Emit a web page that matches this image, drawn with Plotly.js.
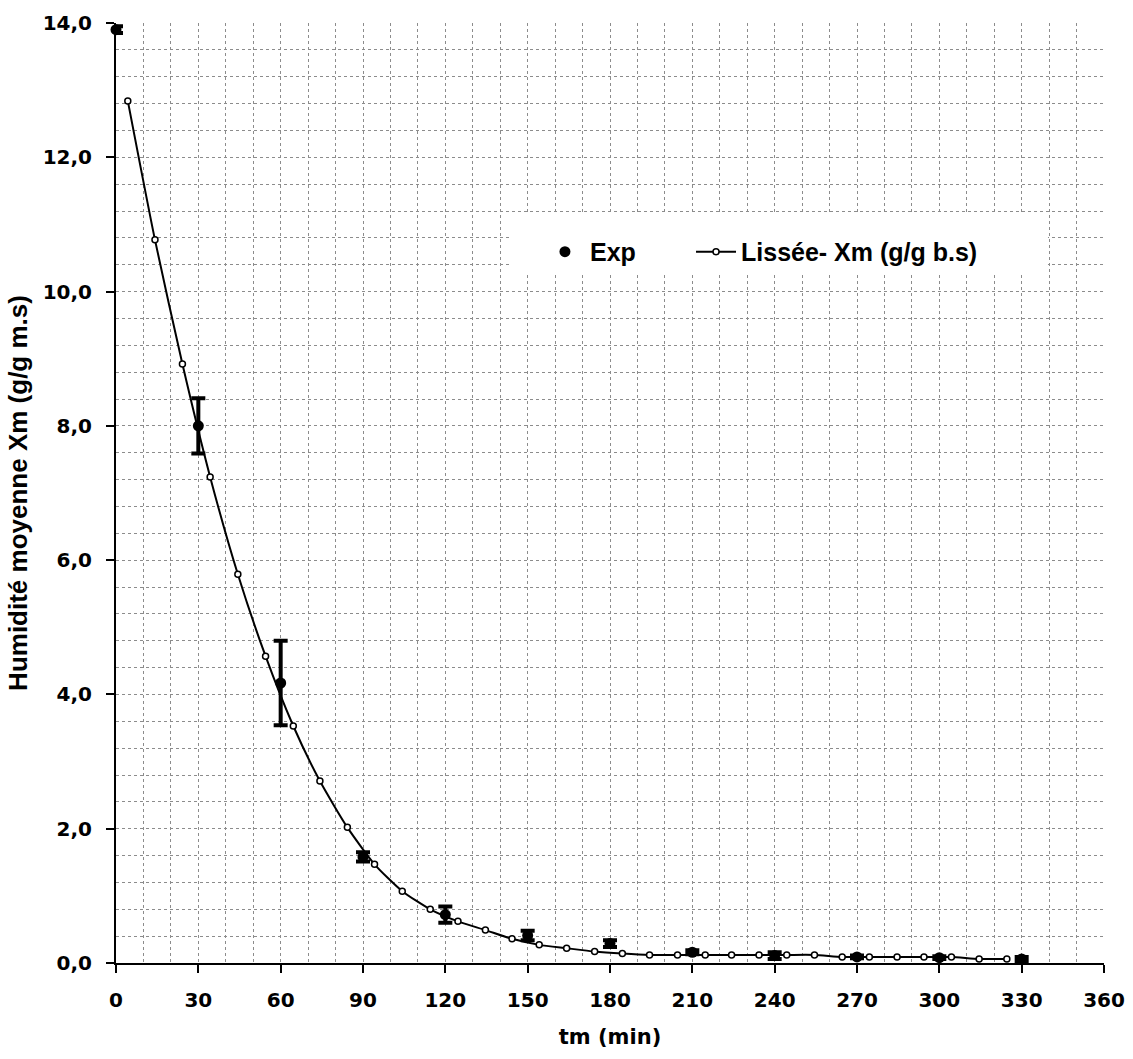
<!DOCTYPE html>
<html>
<head>
<meta charset="utf-8">
<script src="https://cdn.plot.ly/plotly-3.0.1.min.js"></script>
<style>html,body{margin:0;padding:0;background:#fff;}#chart{width:1133px;height:1059px;}</style>
</head>
<body>
<div id="chart"></div>
<script>
// Experimental points (filled circles with error bars)
const expTime = [0, 30, 60, 90, 120, 150, 180, 210, 240, 270, 300, 330];
const expXm = [13.9, 8.0, 4.17, 1.58, 0.72, 0.41, 0.29, 0.16, 0.11, 0.09, 0.08, 0.06];
const expErr = [0.05, 0.41, 0.63, 0.07, 0.12, 0.07, 0.05, 0.03, 0.05, 0.02, 0.02, 0.03];

// Smoothed curve (open circles)
const smoothTime = [4.3, 14.2, 24.2, 34.3, 44.4, 54.5, 64.6, 74.3, 84.3, 94.2, 104.3, 114.5, 124.6, 134.6, 144.3, 154.2, 164.2, 174.4, 184.5, 194.4, 204.6, 214.7, 224.3, 234.3, 244.4, 254.5, 264.6, 274.5, 284.6, 294.4, 304.4, 314.5, 324.6];
const smoothXm = [12.84, 10.77, 8.92, 7.24, 5.79, 4.57, 3.53, 2.71, 2.02, 1.47, 1.07, 0.80, 0.62, 0.49, 0.36, 0.27, 0.22, 0.17, 0.14, 0.12, 0.12, 0.12, 0.12, 0.12, 0.12, 0.12, 0.09, 0.09, 0.09, 0.09, 0.09, 0.06, 0.06];

const xTickVals = [0, 30, 60, 90, 120, 150, 180, 210, 240, 270, 300, 330, 360];

const gridCol = '#8c8c8c';
const tickFont = {family: 'DejaVu Sans', size: 20, color: '#000', weight: 'bold'};
const legendFont = {family: 'Liberation Sans', size: 25, color: '#000', weight: 'bold'};

const traces = [
  {
    x: expTime, y: expXm, name: 'Exp', type: 'scatter', mode: 'markers',
    marker: {symbol: 'circle', size: 11, color: '#000'},
    error_y: {type: 'data', array: expErr, visible: true, color: '#000', thickness: 4, width: 7},
    cliponaxis: false, legend: 'legend'
  },
  {
    x: smoothTime, y: smoothXm, name: 'Lissée- Xm (g/g b.s)', type: 'scatter', mode: 'lines+markers',
    line: {color: '#000', width: 2, shape: 'spline', smoothing: 0.6},
    marker: {symbol: 'circle', size: 6, color: '#fff', line: {color: '#000', width: 1.5}},
    cliponaxis: false, legend: 'legend2'
  }
];

const layout = {
  width: 1133, height: 1059,
  margin: {l: 116, r: 29, t: 23, b: 96},
  paper_bgcolor: '#fff', plot_bgcolor: '#fff',
  separators: ',.',
  showlegend: true,
  legend: {
    x: 0.4291, y: 0.7564, xanchor: 'left', yanchor: 'middle',
    orientation: 'h', bgcolor: 'rgba(0,0,0,0)', borderwidth: 0, itemwidth: 40,
    font: legendFont
  },
  legend2: {
    x: 0.582, y: 0.7564, xanchor: 'left', yanchor: 'middle',
    orientation: 'h', bgcolor: 'rgba(0,0,0,0)', borderwidth: 0, itemwidth: 40,
    font: legendFont
  },
  shapes: [
    {type: 'rect', xref: 'paper', yref: 'paper', x0: 0.3998, x1: 0.9433, y0: 0.7319, y1: 0.7968,
     fillcolor: '#fff', line: {width: 0}, layer: 'above'}
  ],
  xaxis: {
    range: [0, 360], tickvals: xTickVals, ticktext: xTickVals.map(String),
    showline: true, linecolor: '#000', linewidth: 2,
    ticks: 'outside', ticklen: 8, tickwidth: 2, tickcolor: '#000',
    ticklabelstandoff: 10,
    tickfont: tickFont,
    showgrid: true, gridcolor: gridCol, gridwidth: 1, griddash: 'dot',
    minor: {dtick: 10, tick0: 0, showgrid: true, gridcolor: gridCol, gridwidth: 1, griddash: 'dot', ticks: ''},
    zeroline: false, automargin: false,
    title: {text: 'tm (min)', font: {family: 'DejaVu Sans', size: 21, color: '#000', weight: 'bold'}, standoff: 18}
  },
  yaxis: {
    range: [0, 14], dtick: 2, tick0: 0, tickformat: '.1f',
    showline: true, linecolor: '#000', linewidth: 2,
    ticks: 'outside', ticklen: 8, tickwidth: 2, tickcolor: '#000',
    ticklabelstandoff: 10,
    tickfont: tickFont,
    showgrid: true, gridcolor: gridCol, gridwidth: 1, griddash: 'dot',
    minor: {dtick: 0.4, tick0: 0, showgrid: true, gridcolor: gridCol, gridwidth: 1, griddash: 'dot', ticks: ''},
    zeroline: false, automargin: false,
    title: {text: 'Humidité moyenne Xm (g/g m.s)', font: {family: 'Liberation Sans', size: 26, color: '#000', weight: 'bold'}, standoff: 8}
  }
};

Plotly.newPlot('chart', traces, layout, {displayModeBar: false, staticPlot: true});
</script>
</body>
</html>
